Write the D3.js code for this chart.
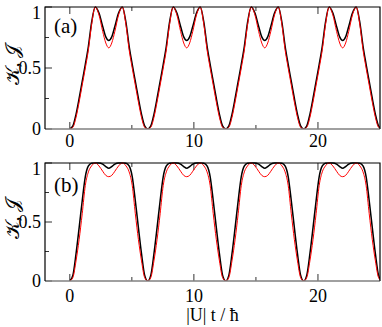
<!DOCTYPE html>
<html>
<head>
<meta charset="utf-8">
<script src="https://cdn.jsdelivr.net/npm/d3@7"></script>
<style>
  body { margin: 0; background: #fff; }
</style>
</head>
<body>
<div id="chart"></div>
<script>
// time axis |U| t / hbar, sampled by hand off the figure
const t = [
  0, 0.25, 0.5, 0.75, 1.0, 1.25, 1.5, 1.75, 2.05, 2.35, 2.65, 2.9, 3.14, 3.38, 3.63, 3.93, 4.23, 4.53, 4.78, 5.03, 5.28, 5.53, 5.78, 6.03,
  6.28, 6.53, 6.78, 7.03, 7.28, 7.53, 7.78, 8.03, 8.33, 8.63, 8.93, 9.18, 9.42, 9.66, 9.91, 10.21, 10.51, 10.81, 11.06, 11.31, 11.56, 11.81, 12.06, 12.31,
  12.57, 12.82, 13.07, 13.32, 13.57, 13.82, 14.07, 14.32, 14.62, 14.92, 15.22, 15.47, 15.71, 15.95, 16.2, 16.5, 16.8, 17.1, 17.35, 17.6, 17.85, 18.1, 18.35, 18.6,
  18.85, 19.1, 19.35, 19.6, 19.85, 20.1, 20.35, 20.6, 20.9, 21.2, 21.5, 21.75, 21.99, 22.23, 22.48, 22.78, 23.08, 23.38, 23.63, 23.88, 24.13, 24.38, 24.63, 24.88, 25.13
];

// panel (a): K black, J red
const kA = [
  0, 0.025, 0.12, 0.25, 0.39, 0.53, 0.68, 0.87, 1.0, 0.95, 0.84, 0.755, 0.725, 0.755, 0.84, 0.95, 1.0, 0.87, 0.68, 0.53, 0.39, 0.25, 0.12, 0.025,
  0, 0.025, 0.12, 0.25, 0.39, 0.53, 0.68, 0.87, 1.0, 0.95, 0.84, 0.755, 0.725, 0.755, 0.84, 0.95, 1.0, 0.87, 0.68, 0.53, 0.39, 0.25, 0.12, 0.025,
  0, 0.025, 0.12, 0.25, 0.39, 0.53, 0.68, 0.87, 1.0, 0.95, 0.84, 0.755, 0.725, 0.755, 0.84, 0.95, 1.0, 0.87, 0.68, 0.53, 0.39, 0.25, 0.12, 0.025,
  0, 0.025, 0.12, 0.25, 0.39, 0.53, 0.68, 0.87, 1.0, 0.95, 0.84, 0.755, 0.725, 0.755, 0.84, 0.95, 1.0, 0.87, 0.68, 0.53, 0.39, 0.25, 0.12, 0.025, 0
];
const jA = [
  0, 0.015, 0.095, 0.22, 0.36, 0.50, 0.65, 0.85, 1.0, 0.935, 0.80, 0.705, 0.665, 0.705, 0.80, 0.935, 1.0, 0.85, 0.65, 0.50, 0.36, 0.22, 0.095, 0.015,
  0, 0.015, 0.095, 0.22, 0.36, 0.50, 0.65, 0.85, 1.0, 0.935, 0.80, 0.705, 0.665, 0.705, 0.80, 0.935, 1.0, 0.85, 0.65, 0.50, 0.36, 0.22, 0.095, 0.015,
  0, 0.015, 0.095, 0.22, 0.36, 0.50, 0.65, 0.85, 1.0, 0.935, 0.80, 0.705, 0.665, 0.705, 0.80, 0.935, 1.0, 0.85, 0.65, 0.50, 0.36, 0.22, 0.095, 0.015,
  0, 0.015, 0.095, 0.22, 0.36, 0.50, 0.65, 0.85, 1.0, 0.935, 0.80, 0.705, 0.665, 0.705, 0.80, 0.935, 1.0, 0.85, 0.65, 0.50, 0.36, 0.22, 0.095, 0.015, 0
];

// panel (b)
const kB = [
  0, 0.05, 0.23, 0.45, 0.68, 0.885, 0.975, 0.998, 1.0, 1.0, 0.99, 0.97, 0.955, 0.97, 0.99, 1.0, 1.0, 0.998, 0.975, 0.885, 0.68, 0.45, 0.23, 0.05,
  0, 0.05, 0.23, 0.45, 0.68, 0.885, 0.975, 0.998, 1.0, 1.0, 0.99, 0.97, 0.955, 0.97, 0.99, 1.0, 1.0, 0.998, 0.975, 0.885, 0.68, 0.45, 0.23, 0.05,
  0, 0.05, 0.23, 0.45, 0.68, 0.885, 0.975, 0.998, 1.0, 1.0, 0.99, 0.97, 0.955, 0.97, 0.99, 1.0, 1.0, 0.998, 0.975, 0.885, 0.68, 0.45, 0.23, 0.05,
  0, 0.05, 0.23, 0.45, 0.68, 0.885, 0.975, 0.998, 1.0, 1.0, 0.99, 0.97, 0.955, 0.97, 0.99, 1.0, 1.0, 0.998, 0.975, 0.885, 0.68, 0.45, 0.23, 0.05, 0
];
const jB = [
  0, 0.03, 0.17, 0.35, 0.57, 0.81, 0.925, 0.975, 1.0, 0.975, 0.93, 0.895, 0.884, 0.895, 0.93, 0.975, 1.0, 0.975, 0.925, 0.81, 0.57, 0.35, 0.17, 0.03,
  0, 0.03, 0.17, 0.35, 0.57, 0.81, 0.925, 0.975, 1.0, 0.975, 0.93, 0.895, 0.884, 0.895, 0.93, 0.975, 1.0, 0.975, 0.925, 0.81, 0.57, 0.35, 0.17, 0.03,
  0, 0.03, 0.17, 0.35, 0.57, 0.81, 0.925, 0.975, 1.0, 0.975, 0.93, 0.895, 0.884, 0.895, 0.93, 0.975, 1.0, 0.975, 0.925, 0.81, 0.57, 0.35, 0.17, 0.03,
  0, 0.03, 0.17, 0.35, 0.57, 0.81, 0.925, 0.975, 1.0, 0.975, 0.93, 0.895, 0.884, 0.895, 0.93, 0.975, 1.0, 0.975, 0.925, 0.81, 0.57, 0.35, 0.17, 0.03, 0
];

const xMajor = [0, 10, 20];
const xMinor = [5, 15];
const yMajor = [0, 0.5, 1];
const yMinor = [0.25, 0.75];
const panelNames = ['(a)', '(b)'];
const yTitle = '\u{1D4A6}, \u{1D4A5}';
const xTitle = '|U| t / \u0127';

const width = 382, height = 327;
const left = 45, right = 380;
const serif = 'Liberation Serif, Times New Roman, DejaVu Serif, serif';

const svg = d3.select('#chart').append('svg')
  .attr('width', width)
  .attr('height', height)
  .attr('font-family', serif);

const x = d3.scaleLinear().domain([-2, 25]).range([left, right]);

// each panel: vertical extent + series
const panels = [
  { name: panelNames[0], top: 7, bottom: 129, k: kA, j: jA, labelY: 33, tickY: 147 },
  { name: panelNames[1], top: 163, bottom: 281, k: kB, j: jB, labelY: 192, tickY: 302 }
];

panels.forEach((p, i) => {
  const y = d3.scaleLinear().domain([0, 1]).range([p.bottom, p.top]);
  const g = svg.append('g');

  g.append('clipPath').attr('id', 'clip' + i)
    .append('rect')
    .attr('x', left).attr('y', p.top - 2)
    .attr('width', right - left).attr('height', p.bottom - p.top + 2);

  // inward ticks bottom / top
  const tickLen = (v) => (xMajor.includes(v) ? 7 : 4);
  [...xMajor, ...xMinor].forEach((v) => {
    g.append('line')
      .attr('x1', x(v)).attr('x2', x(v))
      .attr('y1', p.bottom).attr('y2', p.bottom - tickLen(v))
      .attr('stroke', '#333').attr('stroke-width', 1);
    g.append('line')
      .attr('x1', x(v)).attr('x2', x(v))
      .attr('y1', p.top).attr('y2', p.top + tickLen(v))
      .attr('stroke', '#333').attr('stroke-width', 1);
  });
  // inward ticks left
  [...yMajor, ...yMinor].forEach((v) => {
    const len = yMajor.includes(v) ? 7 : 4;
    g.append('line')
      .attr('x1', left).attr('x2', left + len)
      .attr('y1', y(v)).attr('y2', y(v))
      .attr('stroke', '#333').attr('stroke-width', 1);
  });

  // curves
  const line = (vals) => d3.line()
    .x((d, k) => x(t[k]))
    .y((d) => y(d))
    .curve(d3.curveMonotoneX)(vals);

  g.append('path')
    .attr('d', line(p.k))
    .attr('clip-path', `url(#clip${i})`)
    .attr('fill', 'none')
    .attr('stroke', '#000')
    .attr('stroke-width', 1.5);

  g.append('path')
    .attr('d', line(p.j))
    .attr('clip-path', `url(#clip${i})`)
    .attr('fill', 'none')
    .attr('stroke', '#ff0000')
    .attr('stroke-width', 1);

  // frame: bottom grey, rest black
  g.append('line')
    .attr('x1', left).attr('x2', right)
    .attr('y1', p.bottom).attr('y2', p.bottom)
    .attr('stroke', '#808080').attr('stroke-width', 1.5);
  g.append('path')
    .attr('d', `M${left},${p.bottom}V${p.top}H${right}V${p.bottom}`)
    .attr('fill', 'none')
    .attr('stroke', '#000')
    .attr('stroke-width', 1.2);

  // y tick labels ("1" sits just under the top line, like the original)
  yMajor.forEach((v) => {
    g.append('text')
      .attr('x', 41)
      .attr('y', v === 1 ? p.top + 12 : y(v) + 6)
      .attr('text-anchor', 'end')
      .attr('font-size', '18px')
      .text(d3.format('~g')(v));
  });

  // x tick labels
  xMajor.forEach((v) => {
    g.append('text')
      .attr('x', x(v))
      .attr('y', p.tickY)
      .attr('text-anchor', 'middle')
      .attr('font-size', '18px')
      .text(v);
  });

  // panel tag
  g.append('text')
    .attr('x', 54)
    .attr('y', p.labelY)
    .attr('font-size', '21px')
    .text(p.name);

  // y title
  g.append('text')
    .attr('transform', `translate(19,${(p.top + p.bottom) / 2 - 3}) rotate(-90)`)
    .attr('text-anchor', 'middle')
    .attr('font-size', '19px')
    .text(yTitle);
});

// x title
svg.append('text')
  .attr('x', (left + right) / 2)
  .attr('y', 321)
  .attr('text-anchor', 'middle')
  .attr('font-size', '18px')
  .text(xTitle);
</script>
</body>
</html>
